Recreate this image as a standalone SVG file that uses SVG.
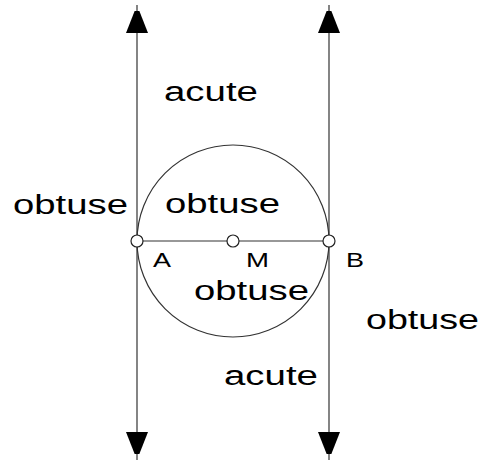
<svg xmlns="http://www.w3.org/2000/svg" width="483" height="464" viewBox="0 0 483 464">
<style>
.ln{stroke:#333;stroke-width:1.2;fill:none}
.pt{fill:#fff;stroke:#222;stroke-width:1.2}
.lbl{font-family:"Liberation Sans",Arial,sans-serif;font-size:27px;fill:#000}
.plbl{font-family:"Liberation Sans",Arial,sans-serif;font-size:21px;fill:#000}
</style>
<defs>
<marker id="ah" markerUnits="userSpaceOnUse" markerWidth="22" markerHeight="30" refX="28" refY="11" orient="auto">
<path d="M0,0 L28,11 L0,22 Z" fill="#000"/>
</marker>
</defs>
<rect width="483" height="464" fill="#fff"/>
<g id="connectors">
<line class="ln" x1="137" y1="240" x2="137" y2="5" marker-end="url(#ah)"/>
<line class="ln" x1="137" y1="240" x2="137" y2="460" marker-end="url(#ah)"/>
<line class="ln" x1="329" y1="240" x2="329" y2="5" marker-end="url(#ah)"/>
<line class="ln" x1="329" y1="240" x2="329" y2="460" marker-end="url(#ah)"/>
<line class="ln" x1="137" y1="241" x2="329" y2="241"/>
</g>
<g id="circle"><circle class="ln" cx="233" cy="241" r="96"/></g>
<g id="A"><circle class="pt" cx="137" cy="241" r="6"/><text class="plbl" x="153" y="267" textLength="18" lengthAdjust="spacingAndGlyphs">A</text></g>
<g id="M"><circle class="pt" cx="233" cy="241" r="6"/><text class="plbl" x="246" y="267" textLength="23" lengthAdjust="spacingAndGlyphs">M</text></g>
<g id="B"><circle class="pt" cx="329" cy="241" r="6"/><text class="plbl" x="346" y="267" textLength="18" lengthAdjust="spacingAndGlyphs">B</text></g>
<g id="labels">
<text class="lbl" x="164" y="101" textLength="94" lengthAdjust="spacingAndGlyphs">acute</text>
<text class="lbl" x="13" y="214" textLength="115" lengthAdjust="spacingAndGlyphs">obtuse</text>
<text class="lbl" x="165" y="213" textLength="115" lengthAdjust="spacingAndGlyphs">obtuse</text>
<text class="lbl" x="194" y="300" textLength="115" lengthAdjust="spacingAndGlyphs">obtuse</text>
<text class="lbl" x="366" y="329" textLength="113" lengthAdjust="spacingAndGlyphs">obtuse</text>
<text class="lbl" x="224" y="385" textLength="94" lengthAdjust="spacingAndGlyphs">acute</text>
</g>
</svg>
